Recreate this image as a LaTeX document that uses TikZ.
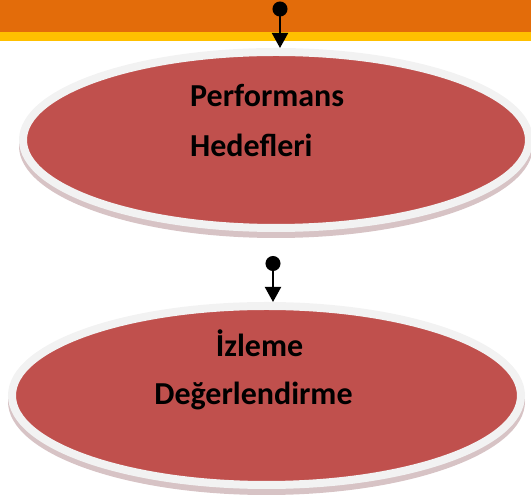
\documentclass[tikz,border=0pt]{standalone}
\usepackage{fontspec}
\setmainfont{Carlito}
\usepackage{tikz}
\usetikzlibrary{shapes.geometric,arrows.meta}
\definecolor{bandorange}{HTML}{E36C0A}
\definecolor{bandyellow}{HTML}{FFC000}
\definecolor{ovalred}{HTML}{C0504D}
\definecolor{ovalrim}{HTML}{F2F2F2}
\definecolor{ovalshadow}{HTML}{D7C3C5}

\begin{document}
\begin{tikzpicture}[x=1pt, y=1pt,
    oval/.style={ellipse, inner sep=0pt, fill=ovalred, draw=ovalrim, line width=8pt},
    ovalshade/.style={ellipse, inner sep=0pt, fill=ovalshadow},
    word/.style={font=\fontsize{32}{38}\selectfont\bfseries, inner sep=0pt},
    link/.style={line width=2pt, {Circle[length=15pt]}-{Triangle[width=16pt, length=15pt]}}]
  \useasboundingbox (0,0) rectangle (531,503);
  \fill[bandorange] (0,471) rectangle (531,503);
  \fill[bandyellow] (0,462) rectangle (531,471);
  \node (s1) [ovalshade, minimum width=514pt, minimum height=184pt] at (276,357) {};
  \node (perf) [oval, minimum width=506pt, minimum height=176pt] at (276,363) {};
  \node (s2) [ovalshade, minimum width=517pt, minimum height=187pt] at (266.5,101.5) {};
  \node (izl) [oval, minimum width=509pt, minimum height=179pt] at (266.5,107.5) {};
  \node (perf1) [word, anchor=base west] at (190,396) {Performans};
  \node (perf2) [word, anchor=base west] at (190,346) {Hedefleri};
  \node (izl1) [word, anchor=base] at (259.5,146) {İzleme};
  \node (izl2) [word, anchor=base] at (253.5,98) {Değerlendirme};
  \coordinate (top1) at (280,501.5);
  \coordinate (top2) at (273,247);
  \draw[link] (top1) -- (top1 |- perf.north);
  \draw[link] (top2) -- (top2 |- izl.north);
\end{tikzpicture}
\end{document}
